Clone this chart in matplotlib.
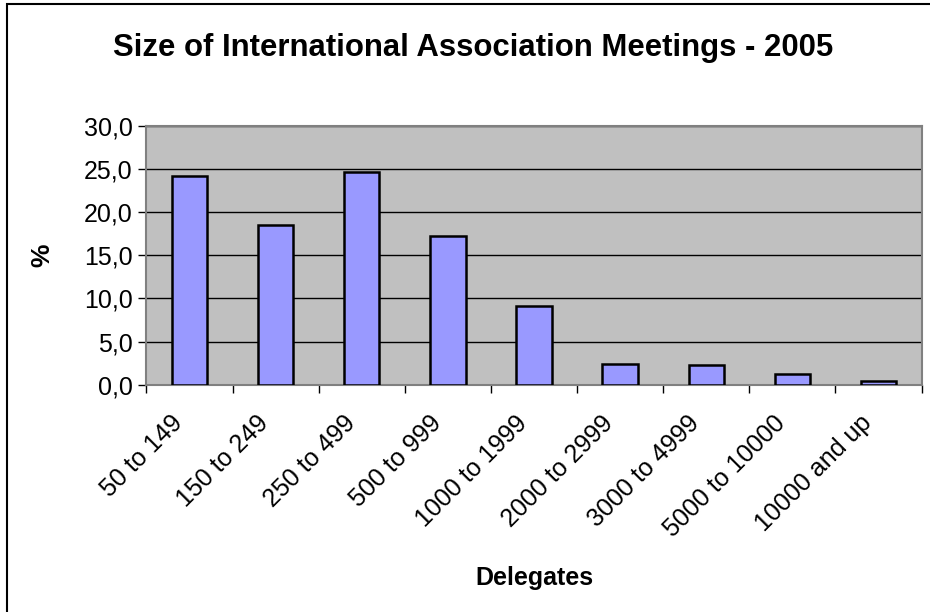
import numpy as np
import matplotlib.pyplot as plt
from matplotlib.patches import Rectangle
from matplotlib.ticker import FuncFormatter
from matplotlib.transforms import ScaledTranslation

# data
categories = ['50 to 149', '150 to 249', '250 to 499', '500 to 999', '1000 to 1999',
              '2000 to 2999', '3000 to 4999', '5000 to 10000', '10000 and up']
percent = [24.2, 18.5, 24.7, 17.2, 9.1, 2.4, 2.3, 1.2, 0.4]

plt.rcParams['font.family'] = ['Liberation Sans', 'DejaVu Sans']

fig = plt.figure(figsize=(9.3, 6.12), dpi=100)
ax = fig.add_axes([0.1575, 0.3714, 0.8334, 0.4227])

x = np.arange(len(categories))
ax.bar(x, percent, width=0.41, color='#9999FF', edgecolor='black', linewidth=1.8, zorder=3)

ax.set_facecolor('#C0C0C0')
ax.set_xlim(-0.5, len(categories) - 0.5)
ax.set_ylim(0, 30)
ax.set_yticks(np.arange(0, 31, 5))
ax.yaxis.set_major_formatter(FuncFormatter(lambda v, p: f"{v:.1f}".replace('.', ',')))
ax.grid(axis='y', color='black', linewidth=1.0, zorder=1)

ax.set_xticks(np.arange(len(categories) + 1) - 0.5, minor=False)
ax.set_xticklabels([])
ax.set_xticks(x, minor=True)
ax.set_xticklabels(categories, minor=True, rotation=45, ha='right', va='top',
                   rotation_mode='anchor', fontsize=18)
ax.tick_params(axis='x', which='minor', length=0, pad=16)
ax.tick_params(axis='x', which='major', length=6, width=1, color='black')
ax.tick_params(axis='y', length=6, width=1, labelsize=18, pad=4)

# nudge rotated labels so their ends sit just left of the bar centres
for lbl in ax.get_xticklabels(minor=True):
    lbl.set_transform(lbl.get_transform() + ScaledTranslation(-0.19, -0.04, fig.dpi_scale_trans))

for s in ax.spines.values():
    s.set_color('#808080')
    s.set_linewidth(1.5)

ax.set_ylabel('%', fontsize=19, fontweight='bold', labelpad=21)
ax.set_xlabel('Delegates', fontsize=18, fontweight='bold', labelpad=18)

fig.text(0.509, 0.9085, 'Size of International Association Meetings - 2005',
         ha='center', va='baseline', fontsize=22.4, fontweight='bold')

# outer chart border (cropped at right and bottom)
fig.patches.append(Rectangle((0.007, -0.1), 1.1, 1.093, transform=fig.transFigure,
                             fill=False, edgecolor='black', linewidth=1.5))

fig.savefig('out.png', dpi=100)
